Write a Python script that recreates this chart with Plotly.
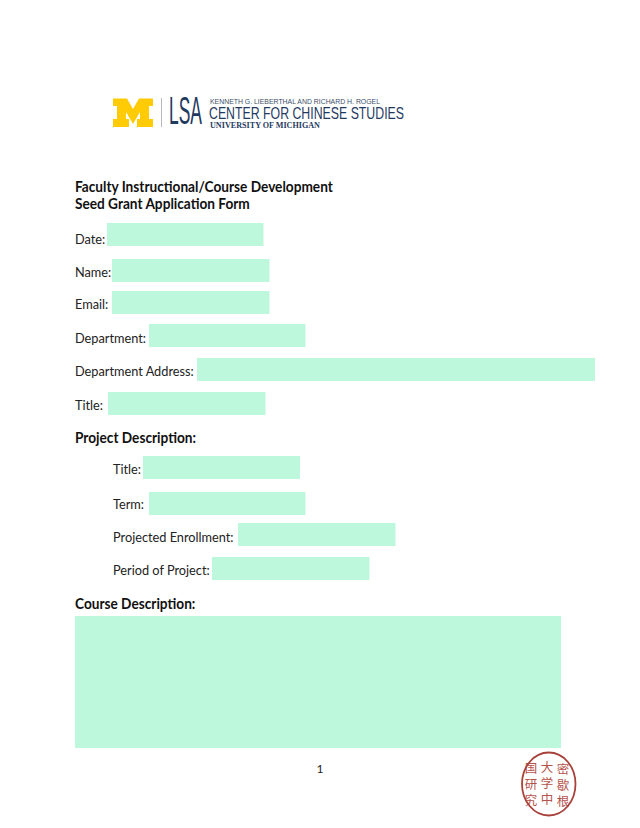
#!/usr/bin/env python3
"""Seed grant application form page, drawn on a page-pixel axis."""

import json

import plotly.graph_objects as go

PAGE_W, PAGE_H = 640, 828
BODY = "Lato, Carlito, sans-serif"
LOGO = "Liberation Sans, sans-serif"

# form fields: label, label x, box left, box right, box top, box bottom
labels = ["Date:", "Name:", "Email:", "Department:", "Department Address:", "Title:",
          "Title:", "Term:", "Projected Enrollment:", "Period of Project:"]
label_x = [75, 75, 75, 75, 75, 75, 113, 113, 113, 113]
box_left = [107, 112, 112, 149, 197, 108, 143, 149, 238, 212]
box_right = [263.5, 269.5, 269.5, 305.5, 595, 265.5, 300, 305.5, 395.5, 369.5]
box_top = [223, 259, 291, 324, 358, 392, 456, 492, 523, 557]
box_bottom = [246, 282, 314, 347, 381, 415, 479, 515, 546, 580]
label_y = [240, 273, 305, 339, 372, 406, 470, 505, 538, 571]

# big course description box
course_box = dict(left=75, right=561, top=616, bottom=748)

# bold headings
headings = ["Faculty Instructional/Course Development", "Seed Grant Application Form",
            "Project Description:", "Course Description:"]
heading_y = [188, 205, 439, 605]

# block M outline of the logo
m_x = [113, 127, 133, 139, 153, 153, 149, 149, 153, 153, 137, 137, 140, 140, 133, 126, 126, 129, 129, 113, 113, 117, 117, 113]
m_y = [98.5, 98.5, 109, 98.5, 98.5, 106, 106, 119, 119, 127, 127, 119, 119, 112, 124, 112, 119, 119, 127, 127, 119, 119, 106, 106]

# seal characters, one string per column
seal_columns = ["密<br>歇<br>根", "大<br>学<br>中", "国<br>研<br>究"]
seal_x = [563, 547, 531]
seal_y = [787, 785, 786]

# logo lines and their widths on the page
logo_text = ["LSA", "KENNETH G. LIEBERTHAL AND RICHARD H. ROGEL",
             "CENTER FOR CHINESE STUDIES", "UNIVERSITY OF MICHIGAN"]
logo_x = [169, 210, 209, 210]
logo_y = [114, 102, 115, 125.5]
logo_size = [39, 7, 16.5, 8]
logo_width = [33, 170, 195, 110]

fig = go.Figure()

# fields as floating bars so the boxes stay on the axes
fig.add_trace(go.Bar(
    y=[(t + b) / 2 for t, b in zip(box_top, box_bottom)],
    x=[r - l for l, r in zip(box_left, box_right)],
    base=box_left,
    width=[b - t for t, b in zip(box_top, box_bottom)],
    orientation="h",
    marker=dict(color="#BDF8DC", line=dict(width=0)),
    hoverinfo="skip",
))
fig.add_trace(go.Bar(
    y=[(course_box["top"] + course_box["bottom"]) / 2],
    x=[course_box["right"] - course_box["left"]],
    base=[course_box["left"]],
    width=[course_box["bottom"] - course_box["top"]],
    orientation="h",
    marker=dict(color="#BDF8DC", line=dict(width=0)),
    hoverinfo="skip",
))

fig.add_trace(go.Scatter(
    x=label_x, y=label_y, mode="text", text=labels, textposition="middle right",
    textfont=dict(family=BODY, size=14, color="#222222"), hoverinfo="skip",
))
fig.add_trace(go.Scatter(
    x=[75] * len(headings), y=heading_y, mode="text",
    text=headings, textposition="middle right",
    textfont=dict(family=BODY, size=14.3, color="#111111", weight="bold"), hoverinfo="skip",
))
fig.add_trace(go.Scatter(
    x=[320], y=[770], mode="text", text=["1"], textposition="middle center",
    textfont=dict(family=BODY, size=12, color="#222222"), hoverinfo="skip",
))

# ── logo ──
fig.add_trace(go.Scatter(
    x=m_x, y=m_y, mode="lines", fill="toself", fillcolor="#FFCB05",
    line=dict(width=0, color="#FFCB05"), hoverinfo="skip",
))
fig.add_trace(go.Scatter(
    x=[161.5, 161.5], y=[98, 127], mode="lines",
    line=dict(color="#B5B9BD", width=1), hoverinfo="skip",
))
for i, txt in enumerate(logo_text):
    serif = txt.startswith("UNIVERSITY")
    fig.add_trace(go.Scatter(
        x=[logo_x[i]], y=[logo_y[i]], mode="text", text=[txt], textposition="middle right",
        textfont=dict(family="Liberation Serif, serif" if serif else LOGO, size=logo_size[i],
                      color="#3B4F6B" if i == 1 else "#1F3A5F",
                      weight="bold" if serif else "normal"),
        hoverinfo="skip",
    ))

# ── seal ──
fig.add_shape(type="circle", x0=522, x1=575.5, y0=752.5, y1=815.5,
              line=dict(color="#A8413A", width=1.8), fillcolor="rgba(0,0,0,0)")
fig.add_trace(go.Scatter(
    x=seal_x, y=seal_y, mode="text", text=seal_columns, textposition="middle center",
    textfont=dict(family="Noto Sans CJK SC", size=12.5, color="#B5524B"), hoverinfo="skip",
))

fig.update_layout(
    width=PAGE_W, height=PAGE_H,
    margin=dict(l=0, r=0, t=0, b=0),
    paper_bgcolor="white", plot_bgcolor="white",
    showlegend=False, barmode="overlay",
)
fig.update_xaxes(range=[0, PAGE_W], visible=False, fixedrange=True)
fig.update_yaxes(range=[PAGE_H, 0], visible=False, fixedrange=True)

# no condensed fonts here, so squeeze the glyphs to the logo and Calibri widths
squeeze = """
document.body.style.margin = '0';
var logoWidths = %s;
var fit = function () {
  document.querySelectorAll('.textpoint text').forEach(function (t) {
    var s = t.textContent, w = logoWidths[s];
    if (w === undefined) {
      if (/[\\u4e00-\\u9fff]/.test(s) || s === '1') return;
      var bold = (t.style.fontWeight || '').indexOf('bold') >= 0 || t.style.fontWeight === '700';
      w = t.getComputedTextLength() * (bold ? 0.955 : 0.91);
    }
    t.setAttribute('textLength', w);
    t.setAttribute('lengthAdjust', 'spacingAndGlyphs');
  });
};
fit();
""" % json.dumps(dict(zip(logo_text, logo_width)))

fig.write_html("out.html", config={"displayModeBar": False}, post_script=squeeze)
